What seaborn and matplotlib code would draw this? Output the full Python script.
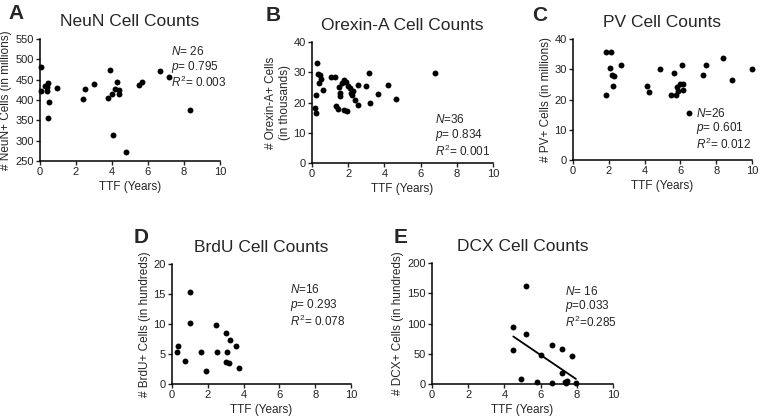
import numpy as np
import pandas as pd
import matplotlib
matplotlib.use('Agg')
import matplotlib.pyplot as plt
import seaborn as sns

# data
neun_ttf = [0.06, 0.04, 0.28, 0.43, 0.37, 0.52, 0.46, 0.4, 0.93, 2.4, 2.5, 3.02,
            3.87, 3.77, 4.01, 4.15, 4.28, 4.38, 4.38, 4.05, 4.78, 5.5, 5.69, 6.65, 7.17, 8.33]
neun_cells = [480, 422, 435, 441, 423, 396, 355, 432, 429, 403, 427, 439,
              474, 405, 415, 428, 444, 425, 415, 314, 271, 437, 445, 472, 457, 376]

orexin_ttf = [0.15, 0.24, 0.24, 0.29, 0.33, 0.42, 0.37, 0.48, 0.61, 1.07, 1.29, 1.31,
              1.44, 1.49, 1.53, 1.53, 1.68, 1.77, 1.86, 1.75, 1.93, 1.99, 2.08, 2.14,
              2.27, 2.19, 2.36, 2.54, 2.54, 3.0, 3.15, 3.22, 3.65, 4.2, 4.66, 6.81]
orexin_cells = [18.2, 16.5, 22.4, 33.1, 29.4, 29.2, 26.4, 27.9, 24.2, 28.3, 28.4, 19.0,
                17.9, 25.0, 23.1, 22.3, 26.4, 27.5, 26.7, 17.6, 17.1, 25.6, 24.8, 23.1,
                23.9, 22.6, 20.9, 25.9, 19.1, 25.6, 29.8, 19.8, 22.9, 25.7, 21.2, 29.8]

pv_ttf = [1.84, 2.12, 2.07, 2.2, 2.29, 2.25, 1.83, 2.7, 4.84, 4.15, 4.26, 5.66, 6.1,
          5.5, 5.75, 5.8, 5.87, 6.0, 6.15, 6.17, 6.5, 7.24, 7.43, 8.4, 8.87, 10.0]
pv_cells = [35.6, 35.6, 30.3, 28.1, 27.8, 24.6, 21.5, 31.4, 30.1, 24.6, 22.4, 28.7, 31.3,
            21.6, 21.6, 24.0, 22.9, 25.2, 25.1, 23.2, 15.5, 28.0, 31.5, 33.9, 26.4, 30.1]

brdu_ttf = [0.32, 0.28, 0.74, 0.99, 0.99, 1.62, 1.91, 2.47, 2.51, 2.99, 3.22, 3.1,
            2.99, 3.16, 3.55, 3.77]
brdu_cells = [6.4, 5.4, 3.9, 15.3, 10.1, 5.3, 2.2, 9.9, 5.3, 8.5, 7.3, 5.3,
              3.6, 3.5, 6.4, 2.6]

dcx_ttf = [4.49, 4.49, 4.9, 5.19, 5.19, 5.78, 6.02, 6.65, 6.65, 7.16, 7.16, 7.37,
           7.45, 7.42, 7.72, 7.95]
dcx_cells = [95, 56, 8, 162, 82, 4, 48, 64, 1, 58, 19, 3, 5, 1, 47, 1]

sns.set_style('ticks')
plt.rcParams['font.family'] = ['Liberation Sans', 'DejaVu Sans']
plt.rcParams['mathtext.fontset'] = 'custom'
plt.rcParams['mathtext.rm'] = 'Liberation Sans'
plt.rcParams['mathtext.it'] = 'Liberation Sans:italic'


def panel(fig, rect, x, y, title, ylabel, ylim, yticks, stats, stats_pos, fit=False):
    ax = fig.add_axes(rect)
    df = pd.DataFrame({'ttf': x, 'cells': y})
    if fit:
        sns.regplot(data=df, x='ttf', y='cells', ax=ax, ci=None, color='black',
                    scatter_kws={'s': 18, 'clip_on': False, 'linewidths': 0, 'alpha': 1},
                    line_kws={'lw': 1.3})
    else:
        sns.scatterplot(data=df, x='ttf', y='cells', ax=ax, color='black', s=18,
                        linewidth=0, clip_on=False)
    ax.set_xlim(0, 10)
    ax.set_ylim(*ylim)
    ax.set_xticks([0, 2, 4, 6, 8, 10])
    ax.set_yticks(yticks)
    ax.tick_params(labelsize=8, length=3, width=1, colors='#222222', pad=1.5)
    for s in ['left', 'bottom']:
        ax.spines[s].set_linewidth(1.1)
        ax.spines[s].set_color('black')
    sns.despine(ax=ax)
    ax.set_xlabel('TTF (Years)', fontsize=8.5, labelpad=3)
    ax.set_ylabel(ylabel, fontsize=8.5, labelpad=2)
    ax.set_title(title, fontsize=12.5, pad=9)
    ax.text(stats_pos[0], stats_pos[1], stats, transform=ax.transAxes, fontsize=8.5,
            va='top', ha='left', linespacing=1.05)
    return ax


fig = plt.figure(figsize=(7.6, 4.2), dpi=100)

panel(fig, [0.0526, 0.6167, 0.2368, 0.2905], neun_ttf, neun_cells, 'NeuN Cell Counts',
      '# NeuN+ Cells (in millions)', (250, 550), range(250, 551, 50),
      '$N$= 26\n$p$= 0.795\n$R^2$= 0.003', (0.73, 0.95))
panel(fig, [0.4105, 0.6119, 0.2382, 0.288], orexin_ttf, orexin_cells, 'Orexin-A Cell Counts',
      '# Orexin-A+ Cells\n(in thousands)', (0, 40), range(0, 41, 10),
      '$N$=36\n$p$= 0.834\n$R^2$= 0.001', (0.68, 0.41))
panel(fig, [0.7539, 0.619, 0.2355, 0.288], pv_ttf, pv_cells, 'PV Cell Counts',
      '# PV+ Cells (in millions)', (0, 40), range(0, 41, 10),
      '$N$=26\n$p$= 0.601\n$R^2$= 0.012', (0.69, 0.44))
panel(fig, [0.2263, 0.0857, 0.2355, 0.2857], brdu_ttf, brdu_cells, 'BrdU Cell Counts',
      '# BrdU+ Cells (in hundreds)', (0, 20), range(0, 21, 5),
      '$N$=16\n$p$= 0.293\n$R^2$= 0.078', (0.66, 0.84))
panel(fig, [0.5684, 0.0857, 0.2382, 0.288], dcx_ttf, dcx_cells, 'DCX Cell Counts',
      '# DCX+ Cells (in hundreds)', (0, 200), range(0, 201, 50),
      '$N$= 16\n$p$=0.033\n$R^2$=0.285', (0.735, 0.82), fit=True)

# panel letters
for letter, px, py in [('A', 8, 4), ('B', 266, 6), ('C', 532, 6), ('D', 134, 228), ('E', 394, 228)]:
    fig.text(px / 760, 1 - py / 420, letter, fontsize=15, fontweight='bold', va='top', ha='left')

fig.savefig('out.png', dpi=100)
